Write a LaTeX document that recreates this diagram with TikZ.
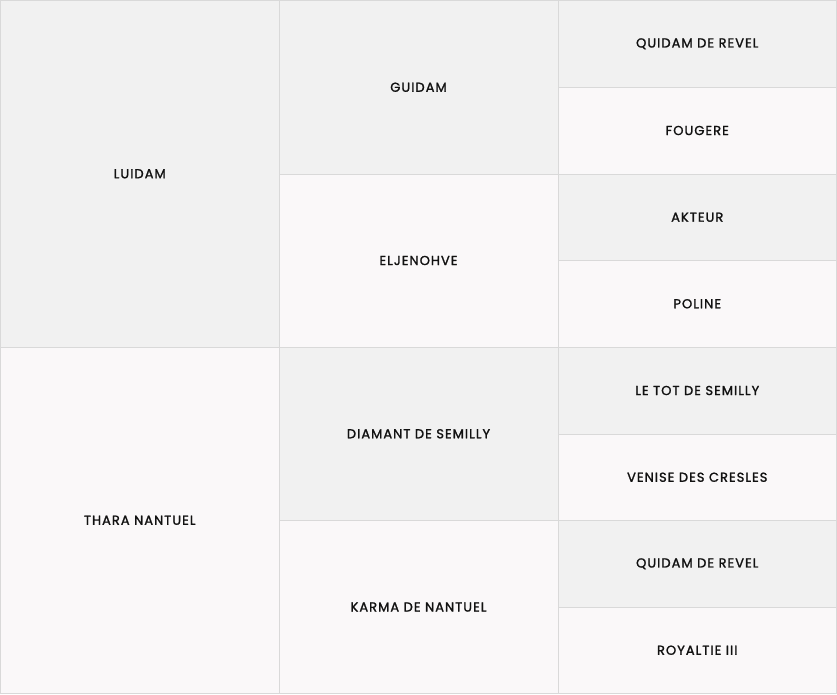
\documentclass[tikz,border=0pt]{standalone}
\usepackage{fontspec}
\setmainfont{Poppins}
\definecolor{cgrey}{HTML}{F1F1F1}
\definecolor{clight}{HTML}{FAF8F9}
\definecolor{cline}{HTML}{D9D9D9}
\definecolor{ctext}{HTML}{111111}
\begin{document}
\begin{tikzpicture}[x=1pt,y=-1pt,
  cell/.style={draw=cline,line width=1pt,text=ctext,font=\fontsize{13}{14}\selectfont\addfontfeatures{FakeBold=1.5,LetterSpace=8}},
  g/.style={cell,fill=cgrey},
  l/.style={cell,fill=clight}]
\useasboundingbox (0,0) rectangle (837,694);
% column 1
\path[g] (0.5,0.5) rectangle (279,347) node[midway] (a1) {LUIDAM};
\path[l] (0.5,347) rectangle (279,693.5) node[midway] (a2) {THARA NANTUEL};
% column 2
\path[g] (279,0.5) rectangle (558,174) node[midway] (b1) {GUIDAM};
\path[l] (279,174) rectangle (558,347) node[midway] (b2) {ELJENOHVE};
\path[g] (279,347) rectangle (558,520.5) node[midway] (b3) {DIAMANT DE SEMILLY};
\path[l] (279,520.5) rectangle (558,693.5) node[midway] (b4) {KARMA DE NANTUEL};
% column 3
\path[g] (558,0.5) rectangle (836.5,87) node[midway] (c1) {QUIDAM DE REVEL};
\path[l] (558,87) rectangle (836.5,174) node[midway] (c2) {FOUGERE};
\path[g] (558,174) rectangle (836.5,260.5) node[midway] (c3) {AKTEUR};
\path[l] (558,260.5) rectangle (836.5,347) node[midway] (c4) {POLINE};
\path[g] (558,347) rectangle (836.5,434) node[midway] (c5) {LE TOT DE SEMILLY};
\path[l] (558,434) rectangle (836.5,520.5) node[midway] (c6) {VENISE DES CRESLES};
\path[g] (558,520.5) rectangle (836.5,607) node[midway] (c7) {QUIDAM DE REVEL};
\path[l] (558,607) rectangle (836.5,693.5) node[midway] (c8) {ROYALTIE III};
\end{tikzpicture}
\end{document}
